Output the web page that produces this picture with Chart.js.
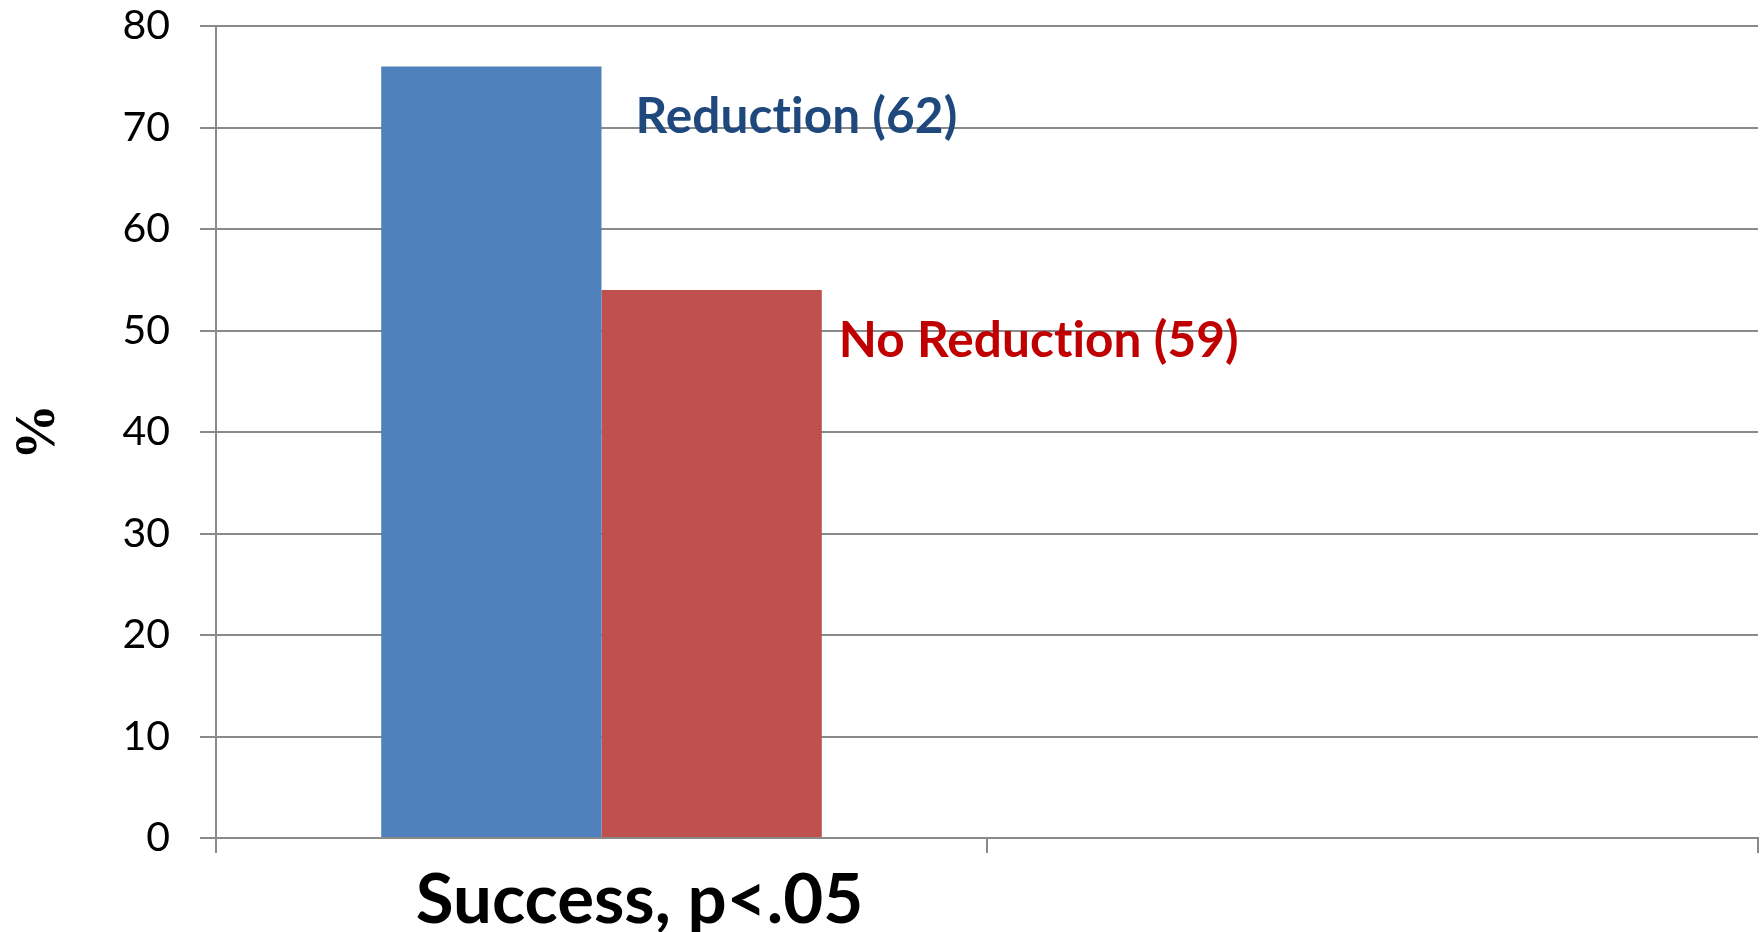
<!DOCTYPE html>
<html>
<head>
<meta charset="utf-8">
<script src="https://cdn.jsdelivr.net/npm/chart.js@4/dist/chart.umd.min.js"></script>
<style>
  html, body { margin: 0; padding: 0; background: #ffffff; }
  canvas { display: block; }
</style>
</head>
<body>
<canvas id="chart" width="1764" height="932"></canvas>
<script>
// Outcome groups on the x axis (the second slot is left empty)
const categories = ['Success, p<.05', ''];

// Series names and sample sizes shown next to each bar
const seriesNames = ['Reduction', 'No Reduction'];
const sampleSizes = [62, 59];

// Percentage achieving success in each group
const reductionValues = [76, null];
const noReductionValues = [54, null];

// Y axis tick values
const yTicks = [0, 10, 20, 30, 40, 50, 60, 70, 80];

const gridColor = '#8a8a8a';

// Writes "Name (n)" beside the top of each series' bar
const seriesTagPlugin = {
  id: 'seriesTags',
  afterDatasetsDraw(chart) {
    const ctx = chart.ctx;
    const shifts = [{ dx: 34, dy: 50 }, { dx: 17, dy: 51 }];
    const colors = ['#1F497D', '#C00000'];
    ctx.save();
    ctx.font = 'bold 49.5px Lato';
    ctx.letterSpacing = '0.1px';
    ctx.textAlign = 'left';
    ctx.textBaseline = 'middle';
    chart.data.datasets.forEach((ds, i) => {
      const bar = chart.getDatasetMeta(i).data[0];
      if (!bar) return;
      const right = bar.x + bar.width / 2;
      ctx.fillStyle = colors[i];
      ctx.fillText(seriesNames[i] + ' (' + sampleSizes[i] + ')', right + shifts[i].dx, bar.y + shifts[i].dy);
    });
    ctx.restore();
  }
};

new Chart(document.getElementById('chart'), {
  type: 'bar',
  data: {
    labels: categories,
    datasets: [
      { label: seriesNames[0], data: reductionValues, backgroundColor: '#4F81BD', borderWidth: 0 },
      { label: seriesNames[1], data: noReductionValues, backgroundColor: '#C0504D', borderWidth: 0 }
    ]
  },
  options: {
    responsive: false,
    animation: false,
    devicePixelRatio: 1,
    layout: { padding: { top: 0, right: 6, bottom: 0, left: 0 } },
    plugins: {
      legend: { display: false },
      tooltip: { enabled: false }
    },
    datasets: {
      bar: { categoryPercentage: 2 / 3.5, barPercentage: 1 }
    },
    scales: {
      x: {
        afterFit(scale) {
          scale.height = 94;
          scale.paddingLeft = 0;
          scale.paddingRight = 0;
        },
        grid: {
          offset: true,
          drawOnChartArea: false,
          drawTicks: true,
          tickLength: 15,
          color: gridColor,
          lineWidth: 2
        },
        border: { display: true, color: gridColor, width: 2 },
        ticks: {
          color: '#000000',
          font: { family: 'Lato', size: 69, weight: 'bold' },
          padding: 6,
          labelOffset: 38,
          maxRotation: 0,
          autoSkip: false
        }
      },
      y: {
        min: 0,
        max: 80,
        afterFit(scale) {
          scale.width = 216;
          scale.paddingTop = 26;
          scale.paddingBottom = 0;
        },
        afterBuildTicks(scale) { scale.ticks = yTicks.map(v => ({ value: v })); },
        grid: {
          drawTicks: true,
          tickLength: 16,
          color: gridColor,
          lineWidth: 2
        },
        border: { display: true, color: gridColor, width: 2 },
        ticks: {
          color: '#000000',
          font: { family: 'Lato', size: 41 },
          padding: 30
        },
        title: {
          display: true,
          text: '%',
          color: '#000000',
          font: { family: 'Liberation Serif', size: 56, weight: 'bold' },
          padding: { top: 6, bottom: 0 }
        }
      }
    }
  },
  plugins: [seriesTagPlugin]
});
</script>
</body>
</html>
